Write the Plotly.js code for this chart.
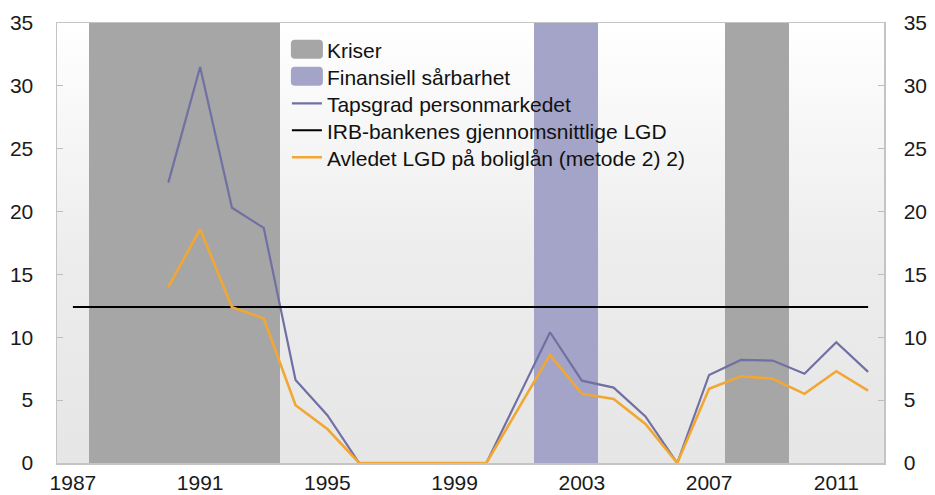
<!DOCTYPE html>
<html>
<head>
<meta charset="utf-8">
<script src="https://cdn.plot.ly/plotly-3.0.1.min.js"></script>
<style>
html,body{margin:0;padding:0;background:#fff;}
#chart{width:935px;height:495px;}
</style>
</head>
<body>
<div id="chart"></div>
<script>
// ---- data ----
const years = [1987,1988,1989,1990,1991,1992,1993,1994,1995,1996,1997,1998,1999,2000,2001,2002,2003,2004,2005,2006,2007,2008,2009,2010,2011,2012];
const kriser = [null,35,35,35,35,35,35,null,null,null,null,null,null,null,null,null,null,null,null,null,null,35,35,null,null,null];
const finansiellSarbarhet = [null,null,null,null,null,null,null,null,null,null,null,null,null,null,null,35,35,null,null,null,null,null,null,null,null,null];
const tapsgrad = [null,null,null,22.3,31.5,20.3,18.7,6.6,3.8,0,0,0,0,0,5.2,10.4,6.55,6.0,3.7,0,7.0,8.2,8.15,7.1,9.6,7.25];
const irbLgd = [12.4,12.4,12.4,12.4,12.4,12.4,12.4,12.4,12.4,12.4,12.4,12.4,12.4,12.4,12.4,12.4,12.4,12.4,12.4,12.4,12.4,12.4,12.4,12.4,12.4,12.4];
const avledetLgd = [null,null,null,14.0,18.6,12.4,11.5,4.6,2.7,0,0,0,0,0,4.3,8.6,5.5,5.1,3.1,0,5.9,6.9,6.7,5.5,7.3,5.75];
const yTicks = [0,5,10,15,20,25,30,35];
const xTicks = [1987,1991,1995,1999,2003,2007,2011];

const names = {
  kriser: 'Kriser',
  fin: 'Finansiell sårbarhet',
  taps: 'Tapsgrad personmarkedet',
  irb: 'IRB-bankenes gjennomsnittlige LGD',
  avl: 'Avledet LGD på boliglån (metode 2) 2)'
};

const traces = [
  {type:'bar', x:years, y:kriser, name:names.kriser, width:1, marker:{color:'#a6a6a6', line:{width:0}}, hoverinfo:'skip'},
  {type:'bar', x:years, y:finansiellSarbarhet, name:names.fin, width:1, marker:{color:'#a4a4c8', line:{width:0}}, hoverinfo:'skip'},
  {type:'scatter', mode:'lines', x:years, y:tapsgrad, name:names.taps, line:{color:'#7070a4', width:2.2}, connectgaps:false},
  {type:'scatter', mode:'lines', x:years, y:irbLgd, name:names.irb, line:{color:'#000000', width:2}},
  {type:'scatter', mode:'lines', x:years, y:avledetLgd, name:names.avl, line:{color:'#f0a733', width:2.6}},
  {type:'scatter', mode:'lines', x:years, y:irbLgd, yaxis:'y2', showlegend:false, line:{width:0}, opacity:0, hoverinfo:'skip'}
];

const svgBg = '<svg xmlns="http://www.w3.org/2000/svg" width="100" height="100" preserveAspectRatio="none" viewBox="0 0 100 100">' +
  '<defs><linearGradient id="g" x1="0" y1="0" x2="0" y2="1"><stop offset="0" stop-color="#ffffff"/><stop offset="0.55" stop-color="#ececec"/><stop offset="1" stop-color="#e6e6e6"/></linearGradient></defs>' +
  '<rect width="100" height="100" fill="url(#g)"/></svg>';

const font = {family:'"Liberation Sans", Arial, sans-serif', size:21, color:'#1a1a1a'};

const layout = {
  width:935, height:495,
  margin:{l:57, r:51, t:23, b:32, pad:0},
  paper_bgcolor:'#ffffff',
  plot_bgcolor:'rgba(0,0,0,0)',
  font:font,
  barmode:'overlay',
  bargap:0,
  showlegend:true,
  legend:{x:0.278, y:0.986, xanchor:'left', yanchor:'top', bgcolor:'rgba(0,0,0,0)', font:{family:font.family, size:21, color:'#111'}, tracegroupgap:0, itemwidth:30},
  xaxis:{range:[1986.5,2012.5], tickvals:xTicks, ticktext:xTicks.map(String), ticks:'', showgrid:false, zeroline:false,
         showline:true, linecolor:'#c4c4c4', linewidth:1.5, mirror:true, ticklabelstandoff:0, fixedrange:true},
  yaxis:{range:[0,35], tickvals:yTicks, ticks:'inside', ticklen:6, tickcolor:'#bdbdbd', showgrid:false, zeroline:false,
         showline:true, linecolor:'#c4c4c4', linewidth:1.5, ticklabelstandoff:18, fixedrange:true},
  yaxis2:{range:[0,35], tickvals:yTicks, overlaying:'y', side:'right', ticks:'inside', ticklen:6, tickcolor:'#bdbdbd', showgrid:false, zeroline:false,
         showline:true, linecolor:'#c4c4c4', linewidth:1.5, ticklabelstandoff:14, fixedrange:true},
  images:[{source:'data:image/svg+xml;charset=utf-8,' + encodeURIComponent(svgBg), xref:'paper', yref:'paper', x:0, y:1, sizex:1, sizey:1,
           xanchor:'left', yanchor:'top', sizing:'stretch', layer:'below'}]
};

function restyleLegend(gd){
  // wider rounded swatches for the bar entries, tighter row spacing
  const rounded = 'M-12,-9.5H12A4,4 0 0 1 16,-5.5V5.5A4,4 0 0 1 12,9.5H-12A4,4 0 0 1 -16,5.5V-5.5A4,4 0 0 1 -12,-9.5Z';
  const items = Array.from(gd.querySelectorAll('g.legend g.traces'));
  items.forEach(function(t){
    const txt = (t.textContent || '');
    if (txt.indexOf(names.kriser) === 0 || txt.indexOf(names.fin) === 0) {
      t.querySelectorAll('g.legendpoints path').forEach(function(p){ p.setAttribute('d', rounded); });
    }
  });
  if (items.length > 1) {
    const m0 = /translate\(\s*([-\d.]+)[ ,]+([-\d.]+)/.exec(items[0].getAttribute('transform') || '');
    if (m0) {
      const x0 = parseFloat(m0[1]), y0 = parseFloat(m0[2]);
      items.forEach(function(t, i){ t.setAttribute('transform', 'translate(' + x0 + ',' + (y0 + i*27) + ')'); });
    }
  }
}

Plotly.newPlot('chart', traces, layout, {displayModeBar:false, staticPlot:true}).then(function(gd){
  restyleLegend(gd);
  setTimeout(function(){ restyleLegend(gd); }, 50);
});
</script>
</body>
</html>
